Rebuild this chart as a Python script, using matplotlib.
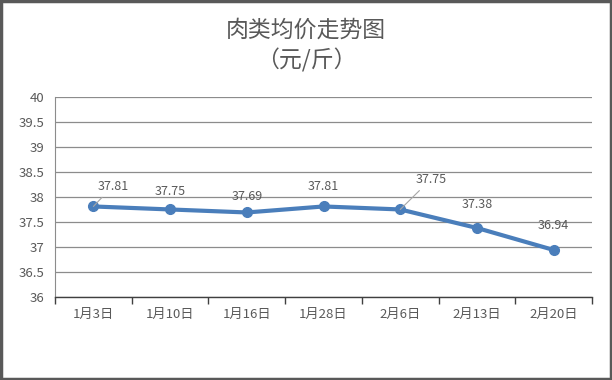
"""
Meat average price trend, line chart with data labels
"""

import matplotlib
matplotlib.use("Agg")
import matplotlib.pyplot as plt
from matplotlib.patches import Rectangle

plt.rcParams['font.family'] = ['Noto Sans CJK SC', 'DejaVu Sans']

dates = ["1月3日", "1月10日", "1月16日", "1月28日", "2月6日", "2月13日", "2月20日"]
prices = [37.81, 37.75, 37.69, 37.81, 37.75, 37.38, 36.94]
# label offsets in points (dx, dy), leader line drawn for the far ones
label_offsets = [(14, 10), (0, 8), (0, 7), (0, 10), (22, 17), (0, 12), (0, 13)]
label_leader = [True, False, False, False, True, False, False]

yticks = [36, 36.5, 37, 37.5, 38, 38.5, 39, 39.5, 40]
ytick_labels = ["36", "36.5", "37", "37.5", "38", "38.5", "39", "39.5", "40"]

text_col = "#595959"
line_col = "#4a7ebb"

fig = plt.figure(figsize=(6.12, 3.8), dpi=100)
ax = fig.add_axes([0.0899, 0.2184, 0.8775, 0.5266])

x = list(range(len(dates)))
ax.plot(x, prices, '-o', color=line_col, lw=3, markersize=7, zorder=3)

for xi, p, (dx, dy), lead in zip(x, prices, label_offsets, label_leader):
    if lead:
        ax.annotate("%.2f" % p, xy=(xi, p), xytext=(dx, dy), textcoords='offset points',
                    ha='center', va='bottom', fontsize=9, color=text_col,
                    arrowprops=dict(arrowstyle='-', color='#a6a6a6', lw=0.8,
                                    shrinkA=2, shrinkB=0))
    else:
        ax.annotate("%.2f" % p, xy=(xi, p), xytext=(dx, dy), textcoords='offset points',
                    ha='center', va='bottom', fontsize=9, color=text_col)

ax.set_xlim(-0.5, len(dates) - 0.5)
ax.set_ylim(36, 40)
ax.set_yticks(yticks)
ax.set_yticklabels(ytick_labels)
ax.set_xticks(x)
ax.set_xticklabels(dates)
ax.set_xticks([i - 0.5 for i in range(len(dates) + 1)], minor=True)
ax.tick_params(axis='x', which='major', length=0, pad=8, labelsize=9.5, labelcolor=text_col)
ax.tick_params(axis='x', which='minor', length=5, width=1, color='#404040', direction='out')
ax.tick_params(axis='y', length=0, pad=8, labelsize=9.5, labelcolor=text_col)

ax.grid(axis='y', color='#8c8c8c', lw=0.9)
ax.set_axisbelow(True)
for s in ['top', 'right']:
    ax.spines[s].set_visible(False)
ax.spines['left'].set_color('#8c8c8c')
ax.spines['bottom'].set_color('#404040')
ax.spines['bottom'].set_linewidth(1)

fig.text(0.5, 0.92, "肉类均价走势图", ha='center', va='center', fontsize=16.5, color=text_col)
fig.text(0.5, 0.84, "（元/斤）", ha='center', va='center', fontsize=16.5, color=text_col)

# outer border
fig.patches.append(Rectangle((0.002, 0.003), 0.996, 0.994, transform=fig.transFigure,
                             fill=False, edgecolor='#595959', lw=2.5))

plt.savefig("out.png", dpi=100)
